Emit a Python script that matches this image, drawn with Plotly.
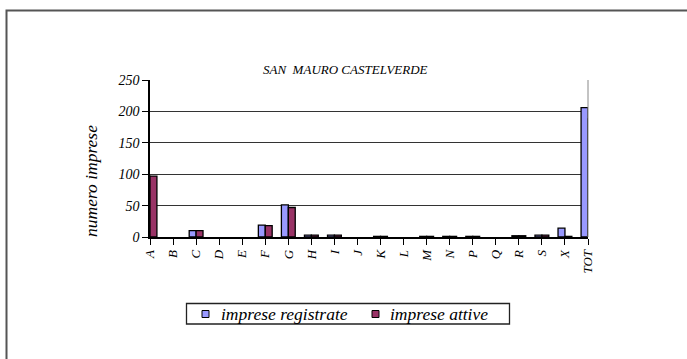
import plotly.graph_objects as go

categories = ["A", "B", "C", "D", "E", "F", "G", "H", "I", "J", "K", "L", "M", "N", "P", "Q", "R", "S", "X", "TOT"]
registrate = [97, 0, 10, 0, 0, 19, 51, 3, 3, 0, 1, 0, 1, 1, 1, 0, 2, 3, 14, 206]
attive = [97, 0, 10, 0, 0, 18, 47, 3, 3, 0, 1, 0, 1, 1, 1, 0, 2, 3, 1, 188]
y_ticks = [0, 50, 100, 150, 200, 250]
series_names = ["imprese registrate", "imprese attive"]
series_colors = ["#9999FF", "#993366"]

FONT = "Liberation Serif, Times New Roman, serif"
W, H = 687, 359
L, R, T, B = 150, 99, 80, 122
pw, ph = W - L - R, H - T - B

def px_x(x):
    return (x - L) / pw

def px_y(y):
    return (H - B - y) / ph

def nz(vals):
    return [v if v else None for v in vals]

xs = list(range(len(categories)))
fig = go.Figure()
for vals, name, col in zip([registrate, attive], series_names, series_colors):
    fig.add_trace(go.Bar(x=xs, y=nz(vals), name=name, showlegend=False,
                         marker=dict(color=col, line=dict(color="black", width=1.3))))

# manual legend (box, swatches, labels)
shapes = [
    dict(type="rect", xref="paper", yref="paper", x0=px_x(6.5), x1=px_x(700), y0=px_y(370), y1=px_y(10.5),
         line=dict(color="#555555", width=2), layer="below"),
    dict(type="line", xref="paper", yref="paper", x0=1, x1=1, y0=0, y1=1,
         line=dict(color="#888888", width=1)),
    dict(type="rect", xref="paper", yref="paper", x0=px_x(186.5), x1=px_x(509.5), y0=px_y(324), y1=px_y(303.5),
         line=dict(color="#222222", width=1.3), fillcolor="white"),
]
annotations = [
    dict(text="SAN\u00a0\u00a0MAURO CASTELVERDE", x=px_x(345), y=px_y(60),
         xref="paper", yref="paper", showarrow=False,
         font=dict(family=FONT, size=13, style="italic")),
    dict(text="numero imprese", x=px_x(91), y=px_y(181), xref="paper", yref="paper",
         showarrow=False, textangle=-90, xanchor="center", yanchor="middle",
         font=dict(family=FONT, size=17.5, style="italic")),
]
for (sx, tx), name, col in zip([(202, 219), (372, 388)], series_names, series_colors):
    shapes.append(dict(type="rect", xref="paper", yref="paper", x0=px_x(sx), x1=px_x(sx + 7),
                       y0=px_y(317.5), y1=px_y(310.5), fillcolor=col, line=dict(color="black", width=1)))
    annotations.append(dict(text=name, x=px_x(tx), y=px_y(314), xref="paper", yref="paper",
                            xanchor="left", yanchor="middle", showarrow=False,
                            font=dict(family=FONT, size=17.5, style="italic")))

fig.update_layout(
    width=W, height=H,
    margin=dict(l=L, r=R, t=T, b=B, pad=0, autoexpand=False),
    paper_bgcolor="white", plot_bgcolor="white",
    barmode="group", bargap=0.4, bargroupgap=0,
    font=dict(family=FONT, size=12, color="black"),
    showlegend=False,
    xaxis=dict(
        tickmode="array", tickvals=xs, ticktext=categories,
        range=[0, len(categories) - 1], tickangle=-90, automargin=False,
        ticks="outside", ticklen=6, tickcolor="black", tickwidth=1,
        showline=True, linecolor="black", linewidth=1.5, mirror=False,
        showgrid=False, zeroline=False,
        tickfont=dict(family=FONT, size=13, style="italic"),
    ),
    yaxis=dict(
        range=[0, 250], tickmode="array", tickvals=y_ticks, automargin=False,
        ticks="outside", ticklen=6, tickcolor="black", tickwidth=1,
        showline=True, linecolor="black", linewidth=1.5,
        showgrid=True, gridcolor="#333333", gridwidth=1, zeroline=False,
        tickfont=dict(family=FONT, size=14, style="italic"),
    ),
    annotations=annotations,
    shapes=shapes,
)

fig.write_html("out.html", config={"displayModeBar": False},
               post_script="document.body.style.margin='0';document.body.style.overflow='hidden';")
